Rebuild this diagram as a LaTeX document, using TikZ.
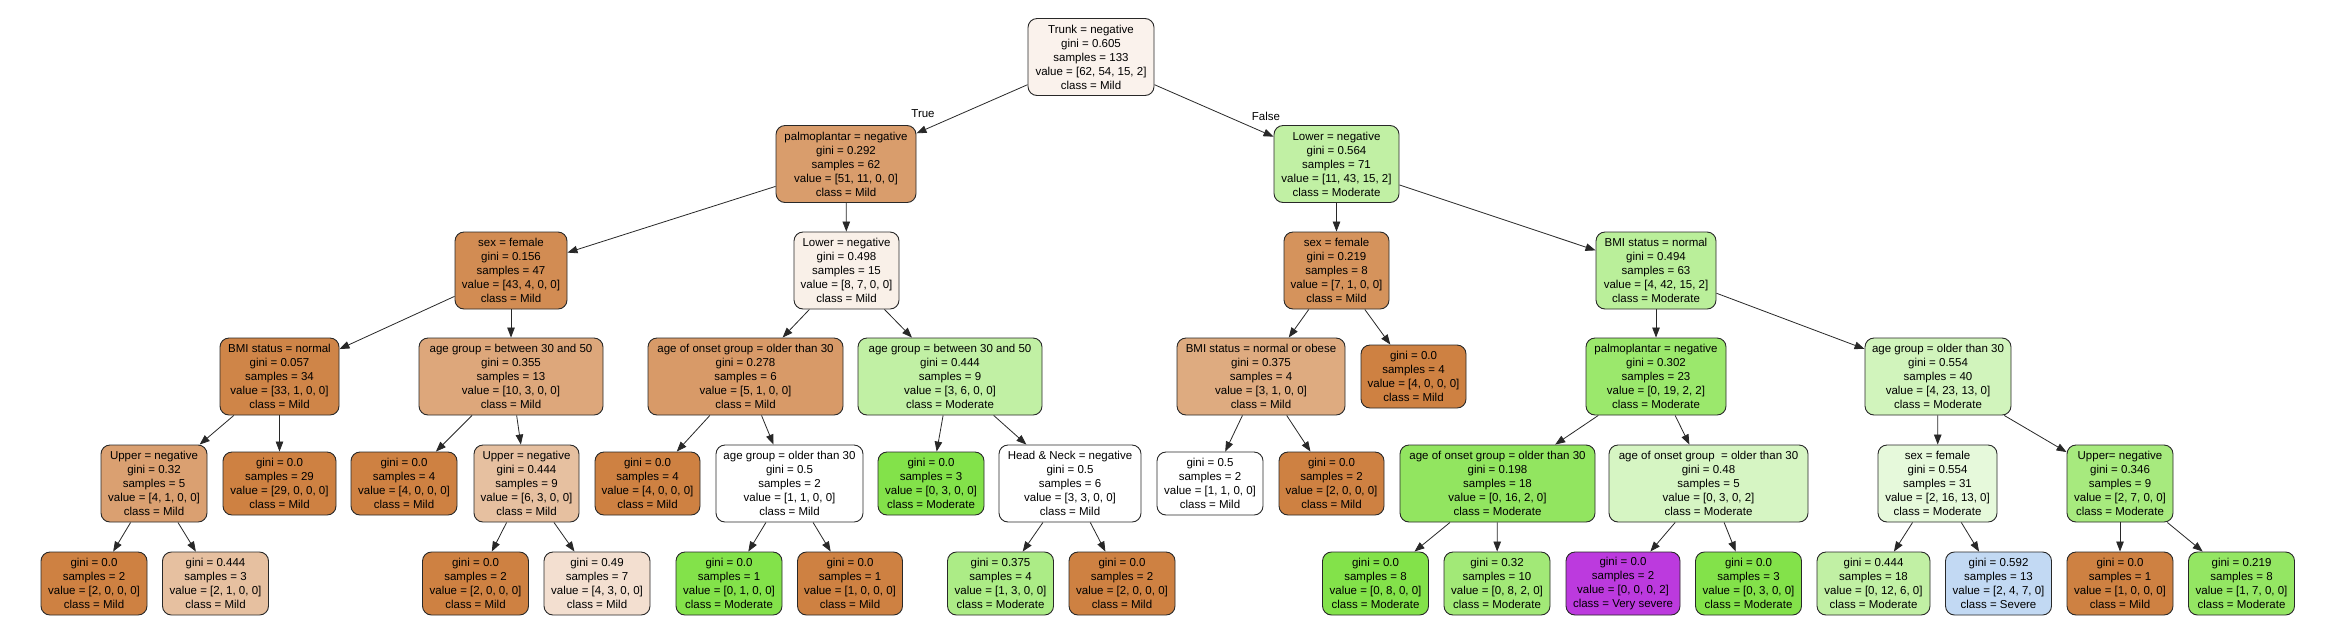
\documentclass[tikz,border=0pt]{standalone}
\usepackage{fontspec}
\setmainfont{Liberation Sans}
\usetikzlibrary{arrows.meta}
\definecolor{mild}{RGB}{206,129,66}
\definecolor{mod}{RGB}{131,226,74}
\definecolor{sev}{RGB}{70,140,220}
\definecolor{vsev}{RGB}{188,58,222}
\definecolor{edgecol}{RGB}{40,40,40}
\tikzset{
  tn/.style={draw=edgecol, line width=0.9pt, rounded corners=9pt, align=center,
    font=\fontsize{11.5pt}{14pt}\selectfont, inner xsep=3pt, inner ysep=0pt,
    minimum height=77pt},
  lf/.style={tn, minimum height=63pt},
  ed/.style={-{Triangle[length=10pt,width=7.5pt]}, draw=edgecol, line width=0.8pt},
  lbl/.style={font=\fontsize{11.5pt}{14pt}\selectfont, inner sep=0pt}
}
\begin{document}
\begin{tikzpicture}[x=1pt,y=-1pt]
\useasboundingbox[fill=white] (0,0) rectangle (2334,641);
% level 0
\node[tn, fill=mild!10, minimum width=126pt] (root) at (1091,57) {Trunk = negative\\gini = 0.605\\samples = 133\\value = [62, 54, 15, 2]\\class = Mild};
% level 1
\node[tn, fill=mild!78, minimum width=140pt] (palmo) at (846,164) {palmoplantar = negative\\gini = 0.292\\samples = 62\\value = [51, 11, 0, 0]\\class = Mild};
\node[tn, fill=mod!50, minimum width=125pt] (low1) at (1336.5,164) {Lower = negative\\gini = 0.564\\samples = 71\\value = [11, 43, 15, 2]\\class = Moderate};
% level 2
\node[tn, fill=mild!91, minimum width=112pt] (sexFL) at (511,270.5) {sex = female\\gini = 0.156\\samples = 47\\value = [43, 4, 0, 0]\\class = Mild};
\node[tn, fill=mild!12, minimum width=105pt] (lowneg) at (846.5,270.5) {Lower = negative\\gini = 0.498\\samples = 15\\value = [8, 7, 0, 0]\\class = Mild};
\node[tn, fill=mild!86, minimum width=105pt] (sexFR) at (1336.5,270.5) {sex = female\\gini = 0.219\\samples = 8\\value = [7, 1, 0, 0]\\class = Mild};
\node[tn, fill=mod!56, minimum width=120pt] (bmiR) at (1656,270.5) {BMI status = normal\\gini = 0.494\\samples = 63\\value = [4, 42, 15, 2]\\class = Moderate};
% level 3
\node[tn, fill=mild!97, minimum width=119pt] (bmiN) at (279.5,376.5) {BMI status = normal\\gini = 0.057\\samples = 34\\value = [33, 1, 0, 0]\\class = Mild};
\node[tn, fill=mild!70, minimum width=184pt] (agB) at (511,376.5) {age group = between 30 and 50\\gini = 0.355\\samples = 13\\value = [10, 3, 0, 0]\\class = Mild};
\node[tn, fill=mild!80, minimum width=195pt] (onsL) at (745.5,376.5) {age of onset group = older than 30\\gini = 0.278\\samples = 6\\value = [5, 1, 0, 0]\\class = Mild};
\node[tn, fill=mod!50, minimum width=184pt] (agBg) at (950,376.5) {age group = between 30 and 50\\gini = 0.444\\samples = 9\\value = [3, 6, 0, 0]\\class = Moderate};
\node[tn, fill=mild!67, minimum width=168pt] (bmiO) at (1261,376.5) {BMI status = normal or obese\\gini = 0.375\\samples = 4\\value = [3, 1, 0, 0]\\class = Mild};
\node[lf, fill=mild, minimum width=105pt] (lfs4) at (1413.5,376.5) {gini = 0.0\\samples = 4\\value = [4, 0, 0, 0]\\class = Mild};
\node[tn, fill=mod!81, minimum width=140pt] (palR) at (1656,376.5) {palmoplantar = negative\\gini = 0.302\\samples = 23\\value = [0, 19, 2, 2]\\class = Moderate};
\node[tn, fill=mod!37, minimum width=146pt] (agO) at (1938,376.5) {age group = older than 30\\gini = 0.554\\samples = 40\\value = [4, 23, 13, 0]\\class = Moderate};
% level 4
\node[tn, fill=mild!75, minimum width=106pt] (upL) at (154,483.5) {Upper = negative\\gini = 0.32\\samples = 5\\value = [4, 1, 0, 0]\\class = Mild};
\node[lf, fill=mild, minimum width=113pt] (l29) at (279.5,483.5) {gini = 0.0\\samples = 29\\value = [29, 0, 0, 0]\\class = Mild};
\node[lf, fill=mild, minimum width=106pt] (l4a) at (404,483.5) {gini = 0.0\\samples = 4\\value = [4, 0, 0, 0]\\class = Mild};
\node[tn, fill=mild!50, minimum width=105pt] (upM) at (526.5,483.5) {Upper = negative\\gini = 0.444\\samples = 9\\value = [6, 3, 0, 0]\\class = Mild};
\node[lf, fill=mild, minimum width=105pt] (l4b) at (647.5,483.5) {gini = 0.0\\samples = 4\\value = [4, 0, 0, 0]\\class = Mild};
\node[tn, fill=white, minimum width=147pt] (agOw) at (789.5,483.5) {age group = older than 30\\gini = 0.5\\samples = 2\\value = [1, 1, 0, 0]\\class = Mild};
\node[lf, fill=mod, minimum width=106pt] (l3g) at (931,483.5) {gini = 0.0\\samples = 3\\value = [0, 3, 0, 0]\\class = Moderate};
\node[tn, fill=white, minimum width=142pt] (hn) at (1070,483.5) {Head \& Neck = negative\\gini = 0.5\\samples = 6\\value = [3, 3, 0, 0]\\class = Mild};
\node[lf, fill=white, minimum width=106pt] (g05) at (1210,483.5) {gini = 0.5\\samples = 2\\value = [1, 1, 0, 0]\\class = Mild};
\node[lf, fill=mild, minimum width=105pt] (l2o) at (1331.5,483.5) {gini = 0.0\\samples = 2\\value = [2, 0, 0, 0]\\class = Mild};
\node[tn, fill=mod!88, minimum width=195pt] (onsG) at (1497.5,483.5) {age of onset group = older than 30\\gini = 0.198\\samples = 18\\value = [0, 16, 2, 0]\\class = Moderate};
\node[tn, fill=mod!33, minimum width=199pt] (onsW) at (1708.5,483.5) {age of onset group\ \ = older than 30\\gini = 0.48\\samples = 5\\value = [0, 3, 0, 2]\\class = Moderate};
\node[tn, fill=mod!20, minimum width=119pt] (sexF2) at (1937.5,483.5) {sex = female\\gini = 0.554\\samples = 31\\value = [2, 16, 13, 0]\\class = Moderate};
\node[tn, fill=mod!71, minimum width=106pt] (upR) at (2120,483.5) {Upper= negative\\gini = 0.346\\samples = 9\\value = [2, 7, 0, 0]\\class = Moderate};
% level 5
\node[lf, fill=mild, minimum width=106pt] (a) at (94,583.5) {gini = 0.0\\samples = 2\\value = [2, 0, 0, 0]\\class = Mild};
\node[lf, fill=mild!50, minimum width=106pt] (b) at (215.5,583.5) {gini = 0.444\\samples = 3\\value = [2, 1, 0, 0]\\class = Mild};
\node[lf, fill=mild, minimum width=106pt] (c) at (475.5,583.5) {gini = 0.0\\samples = 2\\value = [2, 0, 0, 0]\\class = Mild};
\node[lf, fill=mild!25, minimum width=106pt] (d) at (597,583.5) {gini = 0.49\\samples = 7\\value = [4, 3, 0, 0]\\class = Mild};
\node[lf, fill=mod, minimum width=106pt] (e) at (729,583.5) {gini = 0.0\\samples = 1\\value = [0, 1, 0, 0]\\class = Moderate};
\node[lf, fill=mild, minimum width=105pt] (f) at (850,583.5) {gini = 0.0\\samples = 1\\value = [1, 0, 0, 0]\\class = Mild};
\node[lf, fill=mod!67, minimum width=106pt] (g) at (1000.5,583.5) {gini = 0.375\\samples = 4\\value = [1, 3, 0, 0]\\class = Moderate};
\node[lf, fill=mild, minimum width=106pt] (h) at (1122,583.5) {gini = 0.0\\samples = 2\\value = [2, 0, 0, 0]\\class = Mild};
\node[lf, fill=mod, minimum width=106pt] (i) at (1375.5,583.5) {gini = 0.0\\samples = 8\\value = [0, 8, 0, 0]\\class = Moderate};
\node[lf, fill=mod!75, minimum width=106pt] (j) at (1497,583.5) {gini = 0.32\\samples = 10\\value = [0, 8, 2, 0]\\class = Moderate};
\node[lf, fill=vsev, minimum width=114pt] (k) at (1623,583.5) {gini = 0.0\\samples = 2\\value = [0, 0, 0, 2]\\class = Very severe};
\node[lf, fill=mod, minimum width=106pt] (l) at (1748.5,583.5) {gini = 0.0\\samples = 3\\value = [0, 3, 0, 0]\\class = Moderate};
\node[lf, fill=mod!50, minimum width=113pt] (m) at (1873.5,583.5) {gini = 0.444\\samples = 18\\value = [0, 12, 6, 0]\\class = Moderate};
\node[lf, fill=sev!33, minimum width=106pt] (n) at (1998.5,583.5) {gini = 0.592\\samples = 13\\value = [2, 4, 7, 0]\\class = Severe};
\node[lf, fill=mild, minimum width=106pt] (o) at (2120,583.5) {gini = 0.0\\samples = 1\\value = [1, 0, 0, 0]\\class = Mild};
\node[lf, fill=mod!86, minimum width=106pt] (p) at (2241.5,583.5) {gini = 0.219\\samples = 8\\value = [1, 7, 0, 0]\\class = Moderate};
% labels
\node[lbl] (tlbl) at (923,114) {True};
\node[lbl] (flbl) at (1266,116) {False};
% edges
\draw[ed] (root) -- (palmo);
\draw[ed] (root) -- (low1);
\draw[ed] (palmo) -- (sexFL);
\draw[ed] (palmo) -- (lowneg);
\draw[ed] (low1) -- (sexFR);
\draw[ed] (low1) -- (bmiR);
\draw[ed] (sexFL) -- (bmiN);
\draw[ed] (sexFL) -- (agB);
\draw[ed] (lowneg) -- (onsL);
\draw[ed] (lowneg) -- (agBg);
\draw[ed] (sexFR) -- (bmiO);
\draw[ed] (sexFR) -- (lfs4);
\draw[ed] (bmiR) -- (palR);
\draw[ed] (bmiR) -- (agO);
\draw[ed] (bmiN) -- (upL);
\draw[ed] (bmiN) -- (l29);
\draw[ed] (agB) -- (l4a);
\draw[ed] (agB) -- (upM);
\draw[ed] (onsL) -- (l4b);
\draw[ed] (onsL) -- (agOw);
\draw[ed] (agBg) -- (l3g);
\draw[ed] (agBg) -- (hn);
\draw[ed] (bmiO) -- (g05);
\draw[ed] (bmiO) -- (l2o);
\draw[ed] (palR) -- (onsG);
\draw[ed] (palR) -- (onsW);
\draw[ed] (agO) -- (sexF2);
\draw[ed] (agO) -- (upR);
\draw[ed] (upL) -- (a);
\draw[ed] (upL) -- (b);
\draw[ed] (upM) -- (c);
\draw[ed] (upM) -- (d);
\draw[ed] (agOw) -- (e);
\draw[ed] (agOw) -- (f);
\draw[ed] (hn) -- (g);
\draw[ed] (hn) -- (h);
\draw[ed] (onsG) -- (i);
\draw[ed] (onsG) -- (j);
\draw[ed] (onsW) -- (k);
\draw[ed] (onsW) -- (l);
\draw[ed] (sexF2) -- (m);
\draw[ed] (sexF2) -- (n);
\draw[ed] (upR) -- (o);
\draw[ed] (upR) -- (p);
\end{tikzpicture}
\end{document}
